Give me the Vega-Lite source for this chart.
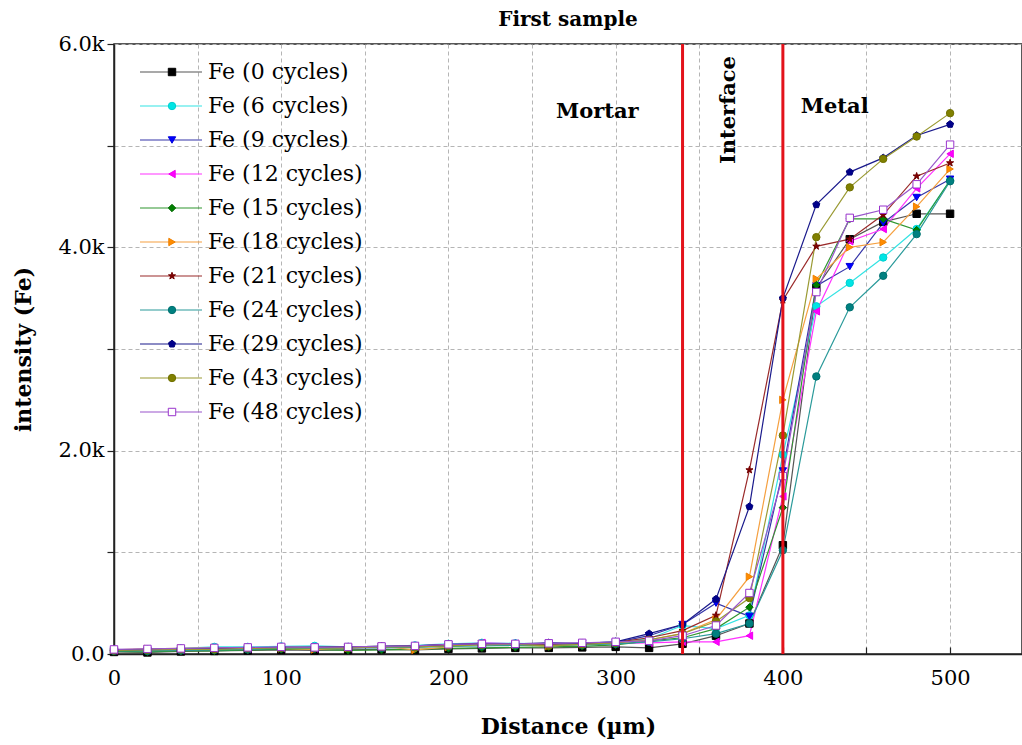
{
  "$schema": "https://vega.github.io/schema/vega-lite/v6.json",
  "width": 908,
  "height": 610,
  "autosize": {"type": "none"},
  "padding": {"left": 114, "top": 44, "right": 0, "bottom": 91},
  "background": "white",
  "title": {"text": "First sample", "anchor": "middle", "font": "DejaVu Serif", "fontSize": 20, "fontWeight": "bold", "color": "black", "offset": 3},
  "config": {
    "view": {"stroke": "#222222", "strokeWidth": 1.5},
    "axis": {
      "labelFont": "DejaVu Serif", "labelFontSize": 21, "labelColor": "black", "labelFlush": false,
      "titleFont": "DejaVu Serif", "titleFontSize": 22, "titleFontWeight": "bold", "titleColor": "black",
      "gridColor": "#b5b5b5", "gridDash": [4, 3], "gridWidth": 1,
      "domainColor": "#222222", "domainWidth": 1.5, "tickColor": "#222222", "tickWidth": 1.2
    }
  },
  "datasets": {
    "d": [
      {"c":0,"x":0,"y":20},{"c":0,"x":20,"y":15},{"c":0,"x":40,"y":25},{"c":0,"x":60,"y":30},{"c":0,"x":80,"y":35},{"c":0,"x":100,"y":40},{"c":0,"x":120,"y":35},{"c":0,"x":140,"y":40},{"c":0,"x":160,"y":45},{"c":0,"x":180,"y":40},{"c":0,"x":200,"y":50},{"c":0,"x":220,"y":55},{"c":0,"x":240,"y":60},{"c":0,"x":260,"y":60},{"c":0,"x":280,"y":65},{"c":0,"x":300,"y":70},{"c":0,"x":320,"y":60},{"c":0,"x":340,"y":100},{"c":0,"x":360,"y":180},{"c":0,"x":380,"y":300},{"c":0,"x":400,"y":1070},{"c":0,"x":420,"y":3600},{"c":0,"x":440,"y":4080},{"c":0,"x":460,"y":4250},{"c":0,"x":480,"y":4330},{"c":0,"x":500,"y":4330},
      {"c":6,"x":0,"y":40},{"c":6,"x":20,"y":45},{"c":6,"x":40,"y":55},{"c":6,"x":60,"y":70},{"c":6,"x":80,"y":70},{"c":6,"x":100,"y":75},{"c":6,"x":120,"y":80},{"c":6,"x":140,"y":70},{"c":6,"x":160,"y":75},{"c":6,"x":180,"y":85},{"c":6,"x":200,"y":100},{"c":6,"x":220,"y":110},{"c":6,"x":240,"y":105},{"c":6,"x":260,"y":100},{"c":6,"x":280,"y":105},{"c":6,"x":300,"y":120},{"c":6,"x":320,"y":150},{"c":6,"x":340,"y":280},{"c":6,"x":360,"y":250},{"c":6,"x":380,"y":380},{"c":6,"x":400,"y":1960},{"c":6,"x":420,"y":3420},{"c":6,"x":440,"y":3650},{"c":6,"x":460,"y":3900},{"c":6,"x":480,"y":4180},{"c":6,"x":500,"y":4660},
      {"c":9,"x":0,"y":30},{"c":9,"x":20,"y":35},{"c":9,"x":40,"y":35},{"c":9,"x":60,"y":45},{"c":9,"x":80,"y":55},{"c":9,"x":100,"y":60},{"c":9,"x":120,"y":65},{"c":9,"x":140,"y":60},{"c":9,"x":160,"y":70},{"c":9,"x":180,"y":75},{"c":9,"x":200,"y":90},{"c":9,"x":220,"y":100},{"c":9,"x":240,"y":95},{"c":9,"x":260,"y":105},{"c":9,"x":280,"y":100},{"c":9,"x":300,"y":115},{"c":9,"x":320,"y":180},{"c":9,"x":340,"y":290},{"c":9,"x":360,"y":500},{"c":9,"x":380,"y":370},{"c":9,"x":400,"y":1800},{"c":9,"x":420,"y":3620},{"c":9,"x":440,"y":3810},{"c":9,"x":460,"y":4240},{"c":9,"x":480,"y":4490},{"c":9,"x":500,"y":4670},
      {"c":12,"x":0,"y":35},{"c":12,"x":20,"y":40},{"c":12,"x":40,"y":40},{"c":12,"x":60,"y":50},{"c":12,"x":80,"y":50},{"c":12,"x":100,"y":60},{"c":12,"x":120,"y":55},{"c":12,"x":140,"y":60},{"c":12,"x":160,"y":65},{"c":12,"x":180,"y":70},{"c":12,"x":200,"y":85},{"c":12,"x":220,"y":110},{"c":12,"x":240,"y":100},{"c":12,"x":260,"y":95},{"c":12,"x":280,"y":100},{"c":12,"x":300,"y":105},{"c":12,"x":320,"y":110},{"c":12,"x":340,"y":120},{"c":12,"x":360,"y":120},{"c":12,"x":380,"y":180},{"c":12,"x":400,"y":1550},{"c":12,"x":420,"y":3370},{"c":12,"x":440,"y":4060},{"c":12,"x":460,"y":4180},{"c":12,"x":480,"y":4580},{"c":12,"x":500,"y":4920},
      {"c":15,"x":0,"y":25},{"c":15,"x":20,"y":20},{"c":15,"x":40,"y":30},{"c":15,"x":60,"y":30},{"c":15,"x":80,"y":40},{"c":15,"x":100,"y":45},{"c":15,"x":120,"y":45},{"c":15,"x":140,"y":35},{"c":15,"x":160,"y":40},{"c":15,"x":180,"y":45},{"c":15,"x":200,"y":55},{"c":15,"x":220,"y":60},{"c":15,"x":240,"y":65},{"c":15,"x":260,"y":70},{"c":15,"x":280,"y":75},{"c":15,"x":300,"y":90},{"c":15,"x":320,"y":130},{"c":15,"x":340,"y":160},{"c":15,"x":360,"y":250},{"c":15,"x":380,"y":460},{"c":15,"x":400,"y":1440},{"c":15,"x":420,"y":3630},{"c":15,"x":440,"y":4280},{"c":15,"x":460,"y":4280},{"c":15,"x":480,"y":4170},{"c":15,"x":500,"y":4660},
      {"c":18,"x":0,"y":40},{"c":18,"x":20,"y":50},{"c":18,"x":40,"y":55},{"c":18,"x":60,"y":60},{"c":18,"x":80,"y":60},{"c":18,"x":100,"y":55},{"c":18,"x":120,"y":45},{"c":18,"x":140,"y":60},{"c":18,"x":160,"y":75},{"c":18,"x":180,"y":40},{"c":18,"x":200,"y":70},{"c":18,"x":220,"y":100},{"c":18,"x":240,"y":90},{"c":18,"x":260,"y":80},{"c":18,"x":280,"y":95},{"c":18,"x":300,"y":110},{"c":18,"x":320,"y":140},{"c":18,"x":340,"y":200},{"c":18,"x":360,"y":340},{"c":18,"x":380,"y":760},{"c":18,"x":400,"y":2500},{"c":18,"x":420,"y":3690},{"c":18,"x":440,"y":4000},{"c":18,"x":460,"y":4050},{"c":18,"x":480,"y":4400},{"c":18,"x":500,"y":4770},
      {"c":21,"x":0,"y":35},{"c":21,"x":20,"y":40},{"c":21,"x":40,"y":45},{"c":21,"x":60,"y":50},{"c":21,"x":80,"y":60},{"c":21,"x":100,"y":65},{"c":21,"x":120,"y":65},{"c":21,"x":140,"y":70},{"c":21,"x":160,"y":75},{"c":21,"x":180,"y":80},{"c":21,"x":200,"y":90},{"c":21,"x":220,"y":100},{"c":21,"x":240,"y":100},{"c":21,"x":260,"y":95},{"c":21,"x":280,"y":105},{"c":21,"x":300,"y":115},{"c":21,"x":320,"y":160},{"c":21,"x":340,"y":230},{"c":21,"x":360,"y":380},{"c":21,"x":380,"y":1810},{"c":21,"x":400,"y":3480},{"c":21,"x":420,"y":4010},{"c":21,"x":440,"y":4080},{"c":21,"x":460,"y":4320},{"c":21,"x":480,"y":4700},{"c":21,"x":500,"y":4830},
      {"c":24,"x":0,"y":30},{"c":24,"x":20,"y":30},{"c":24,"x":40,"y":35},{"c":24,"x":60,"y":40},{"c":24,"x":80,"y":45},{"c":24,"x":100,"y":55},{"c":24,"x":120,"y":55},{"c":24,"x":140,"y":60},{"c":24,"x":160,"y":60},{"c":24,"x":180,"y":65},{"c":24,"x":200,"y":75},{"c":24,"x":220,"y":80},{"c":24,"x":240,"y":85},{"c":24,"x":260,"y":85},{"c":24,"x":280,"y":90},{"c":24,"x":300,"y":100},{"c":24,"x":320,"y":120},{"c":24,"x":340,"y":150},{"c":24,"x":360,"y":200},{"c":24,"x":380,"y":300},{"c":24,"x":400,"y":1020},{"c":24,"x":420,"y":2730},{"c":24,"x":440,"y":3410},{"c":24,"x":460,"y":3720},{"c":24,"x":480,"y":4130},{"c":24,"x":500,"y":4650},
      {"c":29,"x":0,"y":40},{"c":29,"x":20,"y":45},{"c":29,"x":40,"y":50},{"c":29,"x":60,"y":55},{"c":29,"x":80,"y":60},{"c":29,"x":100,"y":65},{"c":29,"x":120,"y":65},{"c":29,"x":140,"y":70},{"c":29,"x":160,"y":75},{"c":29,"x":180,"y":80},{"c":29,"x":200,"y":95},{"c":29,"x":220,"y":100},{"c":29,"x":240,"y":100},{"c":29,"x":260,"y":110},{"c":29,"x":280,"y":105},{"c":29,"x":300,"y":120},{"c":29,"x":320,"y":200},{"c":29,"x":340,"y":290},{"c":29,"x":360,"y":540},{"c":29,"x":380,"y":1450},{"c":29,"x":400,"y":3500},{"c":29,"x":420,"y":4420},{"c":29,"x":440,"y":4740},{"c":29,"x":460,"y":4880},{"c":29,"x":480,"y":5100},{"c":29,"x":500,"y":5210},
      {"c":43,"x":0,"y":35},{"c":43,"x":20,"y":40},{"c":43,"x":40,"y":45},{"c":43,"x":60,"y":45},{"c":43,"x":80,"y":55},{"c":43,"x":100,"y":60},{"c":43,"x":120,"y":60},{"c":43,"x":140,"y":60},{"c":43,"x":160,"y":70},{"c":43,"x":180,"y":70},{"c":43,"x":200,"y":80},{"c":43,"x":220,"y":90},{"c":43,"x":240,"y":95},{"c":43,"x":260,"y":80},{"c":43,"x":280,"y":95},{"c":43,"x":300,"y":110},{"c":43,"x":320,"y":140},{"c":43,"x":340,"y":200},{"c":43,"x":360,"y":320},{"c":43,"x":380,"y":550},{"c":43,"x":400,"y":2150},{"c":43,"x":420,"y":4100},{"c":43,"x":440,"y":4590},{"c":43,"x":460,"y":4870},{"c":43,"x":480,"y":5090},{"c":43,"x":500,"y":5320},
      {"c":48,"x":0,"y":45},{"c":48,"x":20,"y":50},{"c":48,"x":40,"y":55},{"c":48,"x":60,"y":60},{"c":48,"x":80,"y":65},{"c":48,"x":100,"y":70},{"c":48,"x":120,"y":65},{"c":48,"x":140,"y":70},{"c":48,"x":160,"y":75},{"c":48,"x":180,"y":80},{"c":48,"x":200,"y":95},{"c":48,"x":220,"y":100},{"c":48,"x":240,"y":100},{"c":48,"x":260,"y":105},{"c":48,"x":280,"y":110},{"c":48,"x":300,"y":120},{"c":48,"x":320,"y":130},{"c":48,"x":340,"y":180},{"c":48,"x":360,"y":280},{"c":48,"x":380,"y":600},{"c":48,"x":400,"y":1750},{"c":48,"x":420,"y":3560},{"c":48,"x":440,"y":4290},{"c":48,"x":460,"y":4370},{"c":48,"x":480,"y":4620},{"c":48,"x":500,"y":5010}
    ],
    "r": [{"x": 340}, {"x": 400}],
    "t": [{"x": 289, "y": 5330, "label": "Mortar"}, {"x": 431, "y": 5380, "label": "Metal"}],
    "v": [{"x": 368, "y": 5350, "label": "Interface"}]
  },
  "layer": [
    {
      "data": {"name": "d"},
      "mark": {"type": "line", "strokeWidth": 1.2},
      "encoding": {
        "x": {"field": "x", "type": "quantitative", "title": "Distance (µm)",
          "scale": {"domain": [0, 543], "nice": false, "zero": false},
          "axis": {"values": [0,50,100,150,200,250,300,350,400,450,500], "format": "d",
            "labelExpr": "datum.value % 100 === 0 ? datum.label : ''",
            "tickSize": -7, "labelPadding": 20, "titlePadding": 28}},
        "y": {"field": "y", "type": "quantitative", "title": "intensity (Fe)",
          "scale": {"domain": [0, 6000], "nice": false},
          "axis": {"values": [0,1000,2000,3000,4000,5000,6000],
            "labelExpr": "datum.value === 0 ? '0.0' : (datum.value % 2000 === 0 ? format(datum.value/1000, '.1f') + 'k' : '')",
            "tickSize": 7, "labelPadding": 3, "titlePadding": 22}},
        "color": {"field": "c", "type": "ordinal",
          "scale": {"domain": [0,6,9,12,15,18,21,24,29,43,48],
            "range": ["#555555","#33e3e3","#3535a8","#ff33ff","#2f962f","#f5a040","#9a2a2a","#2a9a9a","#1a1a8c","#9a9a33","#9955cc"]},
          "legend": {"orient": "none", "legendX": 46, "legendY": 17, "title": null, "padding": 0,
            "symbolType": "M-6.2,0L6.2,0", "symbolSize": 100, "symbolStrokeWidth": 1.2,
            "labelExpr": "'Fe (' + datum.label + ' cycles)'", "labelFont": "DejaVu Serif", "labelFontSize": 22,
            "labelColor": "black", "labelOffset": 26, "rowPadding": 12}}
      }
    },
    {
      "data": {"name": "d"},
      "mark": {"type": "point", "filled": true, "size": 55, "strokeWidth": 1, "opacity": 1},
      "encoding": {
        "x": {"field": "x", "type": "quantitative", "title": "Distance (µm)", "scale": {"domain": [0, 543], "nice": false, "zero": false}},
        "y": {"field": "y", "type": "quantitative", "title": "intensity (Fe)", "scale": {"domain": [0, 6000], "nice": false}},
        "shape": {"field": "c", "type": "ordinal",
          "scale": {"range": ["square","circle","triangle-down","triangle-left","diamond","triangle-right",
            "M0,-1L0.225,-0.31L0.951,-0.309L0.363,0.118L0.588,0.809L0,0.382L-0.588,0.809L-0.363,0.118L-0.951,-0.309L-0.225,-0.31Z",
            "circle",
            "M0,-1L0.951,-0.309L0.588,0.809L-0.588,0.809L-0.951,-0.309Z",
            "circle","square"]},
          "legend": {"orient": "none", "legendX": 47, "legendY": 17, "title": null, "padding": 0,
            "symbolSize": 55, "symbolStrokeWidth": 1,
            "labelExpr": "' '", "labelFont": "DejaVu Serif", "labelFontSize": 22,
            "labelColor": "transparent", "labelOffset": 7, "rowPadding": 12}},
        "fill": {"field": "c", "type": "ordinal",
          "scale": {"range": ["#000000","#00e5e5","#0000ff","#ff00ff","#008000","#ff8c00","#800000","#008080","#00008b","#808000","#ffffff"]}},
        "stroke": {"field": "c", "type": "ordinal",
          "scale": {"range": ["#000000","#00d0d0","#0000dd","#ee00ee","#006600","#ee8000","#700000","#007070","#00007a","#707000","#9933cc"]}}
      }
    },
    {
      "data": {"name": "r"},
      "mark": {"type": "rule", "color": "#e3121b", "strokeWidth": 3},
      "encoding": {
        "x": {"field": "x", "type": "quantitative", "title": "Distance (µm)", "scale": {"domain": [0, 543], "nice": false, "zero": false}}
      }
    },
    {
      "data": {"name": "t"},
      "mark": {"type": "text", "font": "DejaVu Serif", "fontSize": 21, "fontWeight": "bold", "color": "black"},
      "encoding": {
        "x": {"field": "x", "type": "quantitative", "title": "Distance (µm)", "scale": {"domain": [0, 543], "nice": false, "zero": false}},
        "y": {"field": "y", "type": "quantitative", "title": "intensity (Fe)", "scale": {"domain": [0, 6000], "nice": false}},
        "text": {"field": "label"}
      }
    },
    {
      "data": {"name": "v"},
      "mark": {"type": "text", "font": "DejaVu Serif", "fontSize": 21, "fontWeight": "bold", "color": "black", "angle": 270},
      "encoding": {
        "x": {"field": "x", "type": "quantitative", "title": "Distance (µm)", "scale": {"domain": [0, 543], "nice": false, "zero": false}},
        "y": {"field": "y", "type": "quantitative", "title": "intensity (Fe)", "scale": {"domain": [0, 6000], "nice": false}},
        "text": {"field": "label"}
      }
    }
  ]
}
